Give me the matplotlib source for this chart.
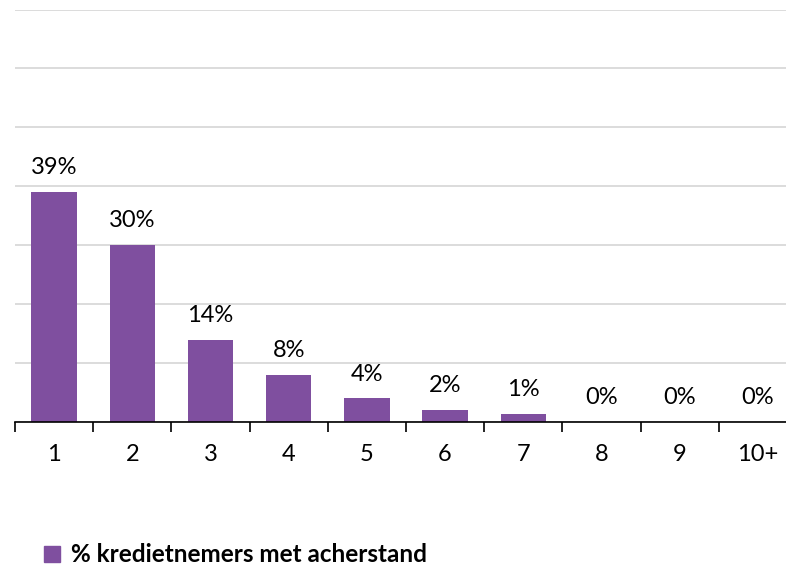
import matplotlib
matplotlib.use("Agg")
import matplotlib.pyplot as plt
from matplotlib.patches import Patch

categories = ["1", "2", "3", "4", "5", "6", "7", "8", "9", "10+"]
values = [39.0, 30.0, 13.9, 8.0, 4.0, 2.0, 1.3, 0.0, 0.0, 0.0]
labels = ["39%", "30%", "14%", "8%", "4%", "2%", "1%", "0%", "0%", "0%"]
series_name = "% kredietnemers met acherstand"

color = "#7F4F9F"
plt.rcParams['font.family'] = ['Lato', 'DejaVu Sans']

W, H = 786, 568
fig = plt.figure(figsize=(W / 100, H / 100), dpi=100)
left, right, top, bottom = 15, 797, 9.5, 422
ax = fig.add_axes([left / W, 1 - bottom / H, (right - left) / W, (bottom - top) / H])

x = list(range(len(categories)))
ax.bar(x, values, width=0.58, color=color, zorder=3)
ax.set_xlim(-0.5, len(categories) - 0.5)
ax.set_ylim(0, 70)
ax.set_yticks(range(0, 71, 10))
ax.yaxis.grid(True, color="#D9D9D9", linewidth=1.3, zorder=0)
ax.tick_params(axis='y', left=False, labelleft=False)
for s in ["top", "right", "left"]:
    ax.spines[s].set_visible(False)
ax.spines["bottom"].set_color("#000000")
ax.spines["bottom"].set_linewidth(1.2)
ax.spines["bottom"].set_zorder(4)

ax.set_xticks(x)
ax.set_xticklabels(categories, fontsize=17)
ax.tick_params(axis='x', length=0, pad=16)
ax.set_xticks([i - 0.5 for i in range(len(categories) + 1)], minor=True)
ax.tick_params(axis='x', which='minor', length=7, width=1.2, color="#000000", direction='out')

for xi, v, lab in zip(x, values, labels):
    ax.annotate(lab, (xi, v), xytext=(0, 10), textcoords="offset points",
                ha="center", va="bottom", fontsize=17, color="#000000")

handle = Patch(facecolor=color, edgecolor=color, label=series_name)
fig.legend(handles=[handle], loc="center left", bbox_to_anchor=(22 / W, 1 - 555 / H),
           frameon=False, prop={'weight': 'bold', 'size': 17.5},
           handlelength=0.65, handleheight=0.65, handletextpad=0.45)

fig.savefig("out.png", dpi=100)
